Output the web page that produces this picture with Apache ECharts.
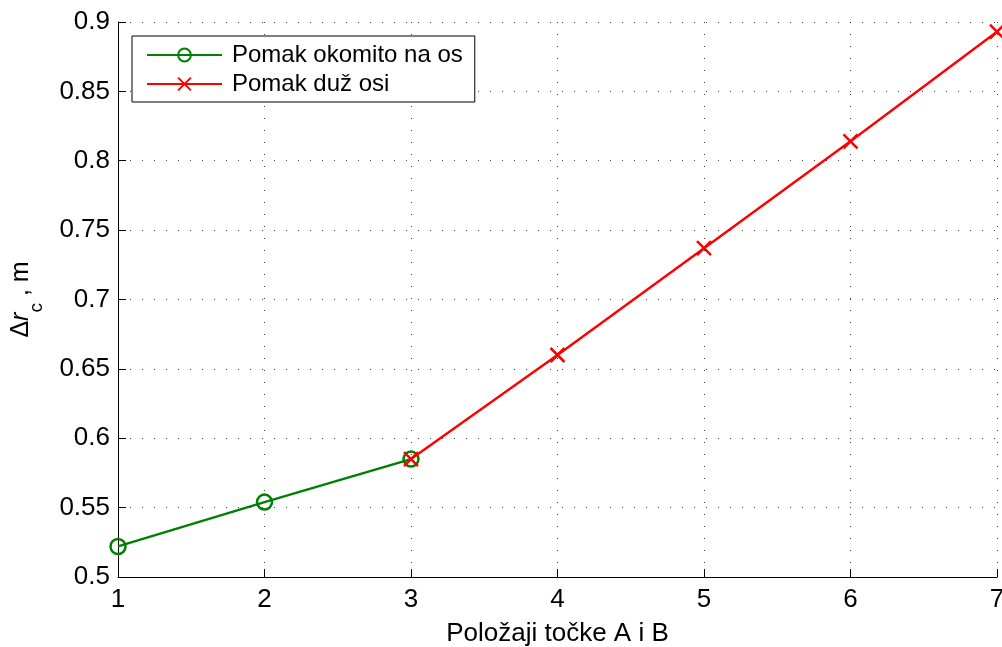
<!DOCTYPE html>
<html>
<head>
<meta charset="utf-8">
<script src="https://cdn.jsdelivr.net/npm/echarts@6/dist/echarts.min.js"></script>
<style>html,body{margin:0;padding:0;background:#fff;}#c{width:1002px;height:647px;}</style>
</head>
<body>
<div id="c"></div>
<script>
const xTicks = [1, 2, 3, 4, 5, 6, 7];
const yTicks = [0.5, 0.55, 0.6, 0.65, 0.7, 0.75, 0.8, 0.85, 0.9];
const seriesNames = ['Pomak okomito na os', 'Pomak duž osi'];
const perpX = [1, 2, 3];
const perpY = [0.522, 0.554, 0.585];
const alongX = [3, 4, 5, 6, 7];
const alongY = [0.585, 0.660, 0.737, 0.814, 0.893];

const chart = echarts.init(document.getElementById('c'), null, {renderer: 'canvas'});
const font = 'Liberation Sans, Arial, sans-serif';
const crossPath = 'path://M0,0L10,10M10,0L0,10';
const gridLine = {show: true, lineStyle: {color: '#000', width: 1, type: [1, 11], opacity: 0.75}};

chart.setOption({
  animation: false,
  backgroundColor: '#fff',
  grid: {left: 118, right: 5, top: 22, bottom: 70, containLabel: false, outerBoundsMode: 'none'},
  legend: {
    orient: 'vertical', left: 132, top: 36,
    padding: [7, 12, 6, 14], itemGap: 5,
    itemWidth: 75, itemHeight: 16,
    backgroundColor: '#fff', borderColor: '#000', borderWidth: 1, borderRadius: 0,
    textStyle: {fontFamily: font, fontSize: 24, color: '#000', padding: [0, 0, 0, 5]},
    data: seriesNames
  },
  xAxis: {
    type: 'value', min: 1, max: 7, interval: 1,
    name: 'Položaji točke A i B', nameLocation: 'middle', nameGap: 44,
    nameTextStyle: {fontFamily: font, fontSize: 26, color: '#000'},
    axisLine: {show: true, onZero: false, lineStyle: {color: '#000', width: 1}},
    axisTick: {show: true, inside: true, length: 8, lineStyle: {color: '#000'}},
    axisLabel: {fontFamily: font, fontSize: 26, color: '#000', margin: 10,
      formatter: v => xTicks.includes(v) ? String(v) : ''},
    splitLine: gridLine
  },
  yAxis: {
    type: 'value', min: 0.5, max: 0.9, interval: 0.05,
    name: '{n|Δ}{i|r}{s|c}{n| , m}', nameLocation: 'middle', nameGap: 84, nameRotate: 90,
    nameTextStyle: {
      fontFamily: font, fontSize: 25, color: '#000',
      rich: {
        n: {fontFamily: font, fontSize: 25, color: '#000'},
        i: {fontFamily: font, fontSize: 25, color: '#000', fontStyle: 'italic'},
        s: {fontFamily: font, fontSize: 19, color: '#000', verticalAlign: 'bottom', padding: [0, 0, -12, 0]}
      }
    },
    axisLine: {show: true, onZero: false, lineStyle: {color: '#000', width: 1}},
    axisTick: {show: true, inside: true, length: 8, lineStyle: {color: '#000'}},
    axisLabel: {fontFamily: font, fontSize: 26, color: '#000', margin: 8,
      formatter: v => {
        const t = yTicks.find(y => Math.abs(y - v) < 1e-9);
        return t === undefined ? '' : String(t);
      }},
    splitLine: gridLine
  },
  series: [
    {
      name: seriesNames[0], type: 'line',
      data: perpX.map((x, i) => [x, perpY[i]]),
      symbol: 'circle', symbolSize: 15, showAllSymbol: true,
      lineStyle: {color: '#008000', width: 2.4},
      itemStyle: {color: 'rgba(255,255,255,0)', borderColor: '#008000', borderWidth: 2.5},
      z: 2
    },
    {
      name: seriesNames[1], type: 'line',
      data: alongX.map((x, i) => [x, alongY[i]]),
      symbol: crossPath, symbolSize: 14, showAllSymbol: true,
      lineStyle: {color: '#ff0000', width: 2.4},
      itemStyle: {color: 'none', borderColor: '#ff0000', borderWidth: 2.5},
      z: 3
    }
  ]
});
</script>
</body>
</html>
